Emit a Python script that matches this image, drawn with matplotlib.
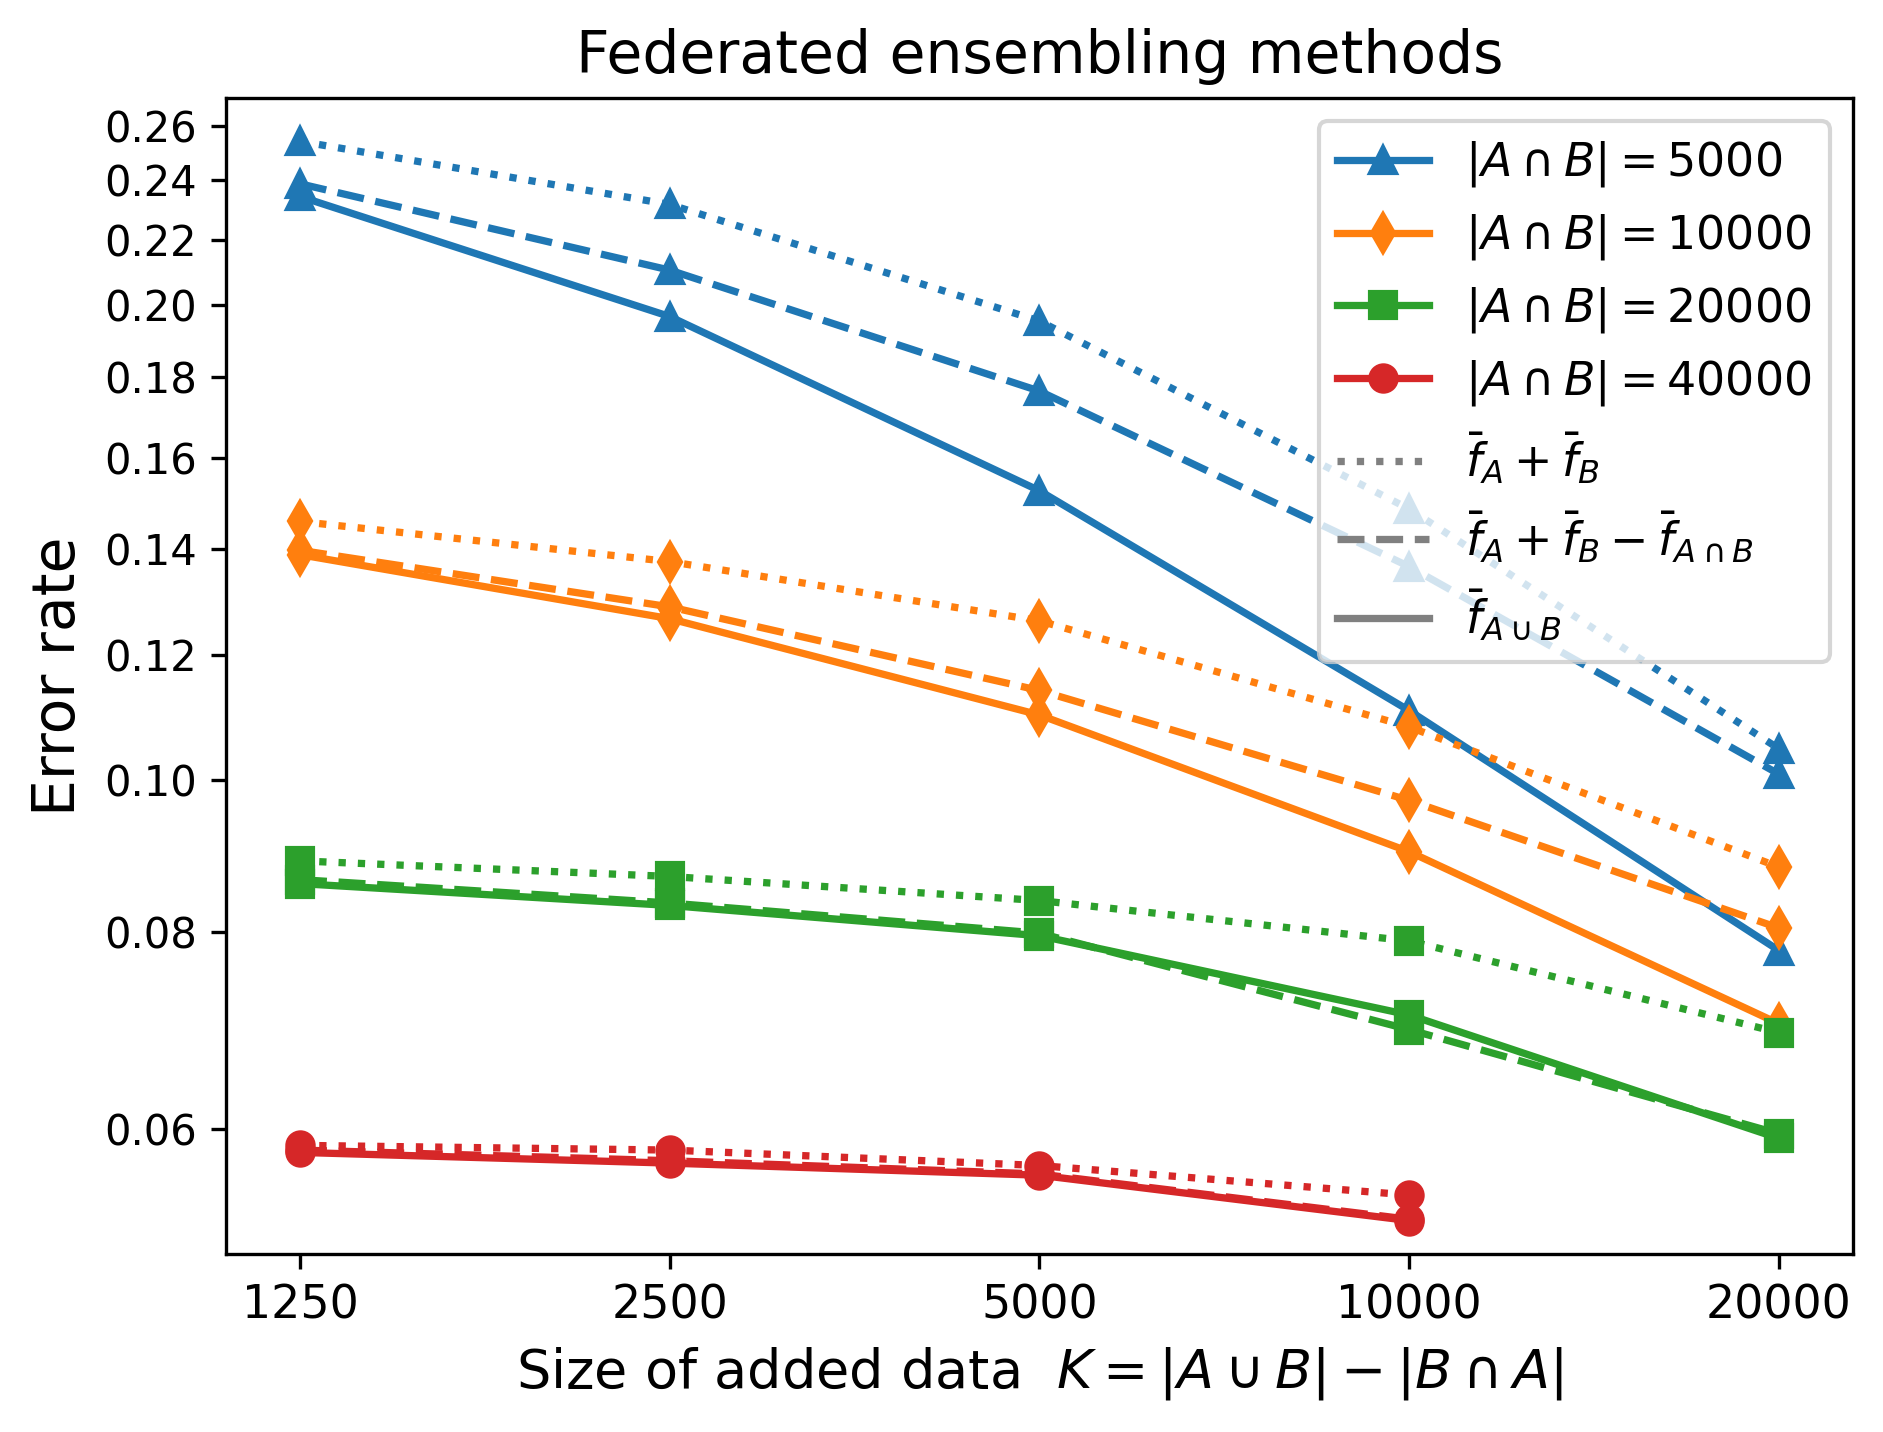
#!/usr/bin/python

import numpy as np
import matplotlib
matplotlib.use('Agg')
import matplotlib.pyplot as plt
from matplotlib.lines import Line2D
from matplotlib.ticker import NullLocator, FixedLocator, FixedFormatter

# size of added data K
added_sizes = [1250, 2500, 5000, 10000, 20000]
overlap_sizes = [5000, 10000, 20000, 40000]

# error rates, one list per |A n B|; red series has no K=20000 point
err_sum = {
    5000: [0.2541, 0.2317, 0.1954, 0.1485, 0.1046],
    10000: [0.1458, 0.1375, 0.1261, 0.1080, 0.0880],
    20000: [0.0888, 0.0868, 0.0838, 0.0790, 0.0691],
    40000: [0.0586, 0.0582, 0.0569, 0.0545],
}
err_sum_minus = {
    5000: [0.2388, 0.2105, 0.1764, 0.1365, 0.1008],
    10000: [0.1398, 0.1287, 0.1139, 0.0970, 0.0805],
    20000: [0.0864, 0.0835, 0.0799, 0.0694, 0.0596],
    40000: [0.0582, 0.0573, 0.0562, 0.0526],
}
err_union = {
    5000: [0.2344, 0.1967, 0.1525, 0.1106, 0.0779],
    10000: [0.1389, 0.1265, 0.1099, 0.0900, 0.0700],
    20000: [0.0859, 0.0832, 0.0796, 0.0709, 0.0592],
    40000: [0.0580, 0.0571, 0.0561, 0.0525],
}

y_ticks = [0.06, 0.08, 0.10, 0.12, 0.14, 0.16, 0.18, 0.20, 0.22, 0.24, 0.26]

colors = ['tab:blue', 'tab:orange', 'tab:green', 'tab:red']
markers = ['^', 'd', 's', 'o']


def main():
    fig, ax = plt.subplots(figsize=(1883 / 300, 1432 / 300), dpi=300)
    fig.subplots_adjust(left=0.120, right=0.984, top=0.9316, bottom=0.1243)

    methods = [(err_sum, ':'), (err_sum_minus, '--'), (err_union, '-')]
    for size, color, marker in zip(overlap_sizes, colors, markers):
        for data, ls in methods:
            y = data[size]
            ax.plot(added_sizes[:len(y)], y, color=color, marker=marker, linestyle=ls,
                    linewidth=1.75, markersize=6.3)

    ax.set_xscale('log')
    ax.set_yscale('log')
    ax.set_ylim(0.05, 0.2707)
    ax.xaxis.set_major_locator(FixedLocator(added_sizes))
    ax.xaxis.set_major_formatter(FixedFormatter([str(k) for k in added_sizes]))
    ax.xaxis.set_minor_locator(NullLocator())
    ax.yaxis.set_major_locator(FixedLocator(y_ticks))
    ax.yaxis.set_major_formatter(FixedFormatter(['%.2f' % t for t in y_ticks]))
    ax.yaxis.set_minor_locator(NullLocator())
    ax.tick_params(axis='x', labelsize=11)
    ax.tick_params(axis='y', labelsize=10)

    handles = []
    for size, color, marker in zip(overlap_sizes, colors, markers):
        handles.append(Line2D([], [], color=color, marker=marker, linestyle='-',
                              linewidth=1.75, markersize=6.3,
                              label=r'$|A\cap B|=%d$' % size))
    handles.append(Line2D([], [], color='gray', linestyle=':', linewidth=1.75,
                          label=r'$\bar{f}_A+\bar{f}_B$'))
    handles.append(Line2D([], [], color='gray', linestyle='--', linewidth=1.75,
                          label=r'$\bar{f}_A+\bar{f}_B-\bar{f}_{A\cap B}$'))
    handles.append(Line2D([], [], color='gray', linestyle='-', linewidth=1.75,
                          label=r'$\bar{f}_{A\cup B}$'))
    ax.legend(handles=handles, loc='upper right', fontsize=11)

    ax.set_title('Federated ensembling methods', fontsize=14)
    ax.set_xlabel(r'Size of added data  $K=|A\cup B|-|B\cap A|$', fontsize=13)
    ax.set_ylabel('Error rate', fontsize=14)

    plt.savefig('out.png')


if __name__ == "__main__":
    main()
